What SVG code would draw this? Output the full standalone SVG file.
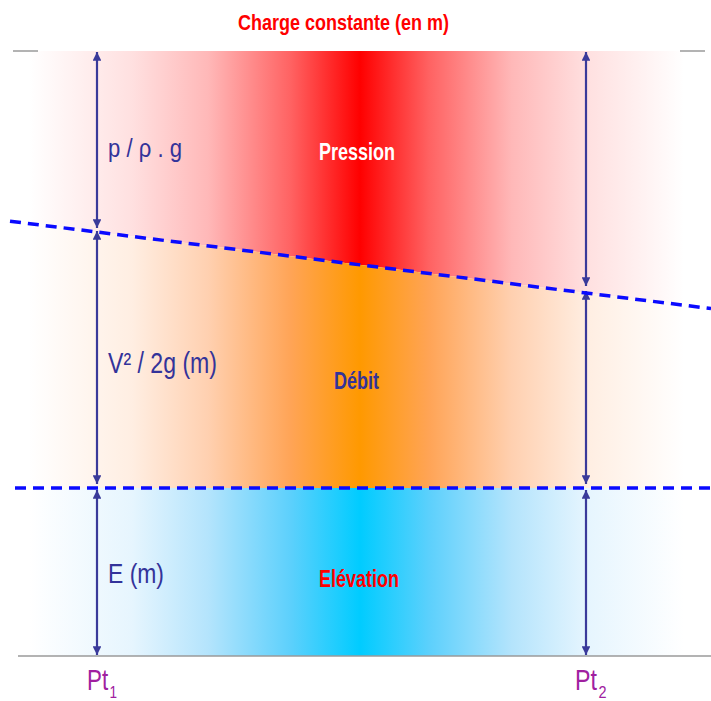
<svg xmlns="http://www.w3.org/2000/svg" width="711" height="701" viewBox="0 0 711 701">
<style>
.lbl{font-family:"Liberation Sans",Arial,sans-serif;fill:#33339a}
.title{font-family:"Liberation Sans",Arial,sans-serif;font-weight:bold}
.pt{font-family:"Liberation Sans",Arial,sans-serif;fill:#a020a0}
.arr{stroke:#3a3a9a;stroke-width:2.2;fill:none;marker-start:url(#ah);marker-end:url(#ah)}
.dash{stroke:#0a0aff;stroke-width:3.5;stroke-dasharray:11 7;fill:none}
.gray{stroke:#9a9a9a;stroke-width:1.5}
</style>
<defs>
<linearGradient id="gRed" x1="15" y1="0" x2="705" y2="0" gradientUnits="userSpaceOnUse">
<stop offset="0.02" stop-color="#ffffff"/>
<stop offset="0.17" stop-color="#ffe0e0"/>
<stop offset="0.28" stop-color="#ffb8b8"/>
<stop offset="0.4" stop-color="#ff6262"/>
<stop offset="0.5" stop-color="#ff0000"/>
<stop offset="0.6" stop-color="#ff6262"/>
<stop offset="0.72" stop-color="#ffb8b8"/>
<stop offset="0.83" stop-color="#ffe0e0"/>
<stop offset="0.97" stop-color="#ffffff"/>
</linearGradient>
<linearGradient id="gOr" x1="15" y1="0" x2="705" y2="0" gradientUnits="userSpaceOnUse">
<stop offset="0.02" stop-color="#ffffff"/>
<stop offset="0.17" stop-color="#ffeee2"/>
<stop offset="0.28" stop-color="#ffd0b0"/>
<stop offset="0.4" stop-color="#ffa456"/>
<stop offset="0.5" stop-color="#ff9900"/>
<stop offset="0.6" stop-color="#ffa456"/>
<stop offset="0.72" stop-color="#ffd0b0"/>
<stop offset="0.83" stop-color="#ffeee2"/>
<stop offset="0.97" stop-color="#ffffff"/>
</linearGradient>
<linearGradient id="gBl" x1="15" y1="0" x2="705" y2="0" gradientUnits="userSpaceOnUse">
<stop offset="0.02" stop-color="#ffffff"/>
<stop offset="0.17" stop-color="#e6f5fe"/>
<stop offset="0.28" stop-color="#b4e4fc"/>
<stop offset="0.4" stop-color="#5cd0fc"/>
<stop offset="0.5" stop-color="#00ccff"/>
<stop offset="0.6" stop-color="#5cd0fc"/>
<stop offset="0.72" stop-color="#b4e4fc"/>
<stop offset="0.83" stop-color="#e6f5fe"/>
<stop offset="0.97" stop-color="#ffffff"/>
</linearGradient>
<marker id="ah" viewBox="0 0 10 10" refX="10" refY="5" markerWidth="4" markerHeight="4" orient="auto-start-reverse">
<path d="M0,0 L10,5 L0,10 z" fill="#3a3a9a"/>
</marker>
</defs>
<rect width="711" height="701" fill="#ffffff"/>
<g id="bands">
<polygon points="15,51 705,51 705,307.9 15,221.8" fill="url(#gRed)"/>
<polygon points="15,221.8 705,307.9 705,488 15,488" fill="url(#gOr)"/>
<rect x="15" y="488" width="690" height="168" fill="url(#gBl)"/>
</g>
<g id="guides">
<line class="gray" x1="13" y1="51" x2="38" y2="51"/>
<line class="gray" x1="680" y1="51" x2="705" y2="51"/>
<line class="gray" x1="18" y1="656" x2="711" y2="656"/>
</g>
<g id="connectors">
<line class="arr" x1="97" y1="52" x2="97" y2="228"/>
<line class="arr" x1="97" y1="231" x2="97" y2="484"/>
<line class="arr" x1="97" y1="490" x2="97" y2="655"/>
<line class="arr" x1="586" y1="52" x2="586" y2="286"/>
<line class="arr" x1="586" y1="291" x2="586" y2="484"/>
<line class="arr" x1="586" y1="490" x2="586" y2="655"/>
<line class="dash" x1="10" y1="221.2" x2="711" y2="308.6"/>
<line class="dash" x1="15" y1="488" x2="711" y2="488"/>
</g>
<g id="title"><text class="title" x="238" y="30" font-size="22" fill="#ff0000" textLength="211" lengthAdjust="spacingAndGlyphs">Charge constante (en m)</text></g>
<g id="pression"><text class="title" x="319" y="160" font-size="24" fill="#ffffff" textLength="76" lengthAdjust="spacingAndGlyphs">Pression</text></g>
<g id="debit"><text class="title" x="334" y="389" font-size="23" fill="#333399" textLength="45" lengthAdjust="spacingAndGlyphs">Débit</text></g>
<g id="elevation"><text class="title" x="319" y="587" font-size="23" fill="#ff0000" textLength="80" lengthAdjust="spacingAndGlyphs">Elévation</text></g>
<g id="label-p"><text class="lbl" x="108" y="157" font-size="25" textLength="74" lengthAdjust="spacingAndGlyphs">p / ρ . g</text></g>
<g id="label-v"><text class="lbl" x="108" y="373" font-size="29" textLength="109" lengthAdjust="spacingAndGlyphs">V² / 2g (m)</text></g>
<g id="label-e"><text class="lbl" x="108" y="583" font-size="28" textLength="56" lengthAdjust="spacingAndGlyphs">E (m)</text></g>
<g id="pt1"><text class="pt" transform="translate(87,690) scale(0.77,1)" font-size="29">Pt</text><text class="pt" transform="translate(109.5,698) scale(0.8,1)" font-size="17">1</text></g>
<g id="pt2"><text class="pt" transform="translate(575,690) scale(0.8,1)" font-size="29">Pt</text><text class="pt" transform="translate(598.5,698) scale(0.85,1)" font-size="17">2</text></g>
</svg>
